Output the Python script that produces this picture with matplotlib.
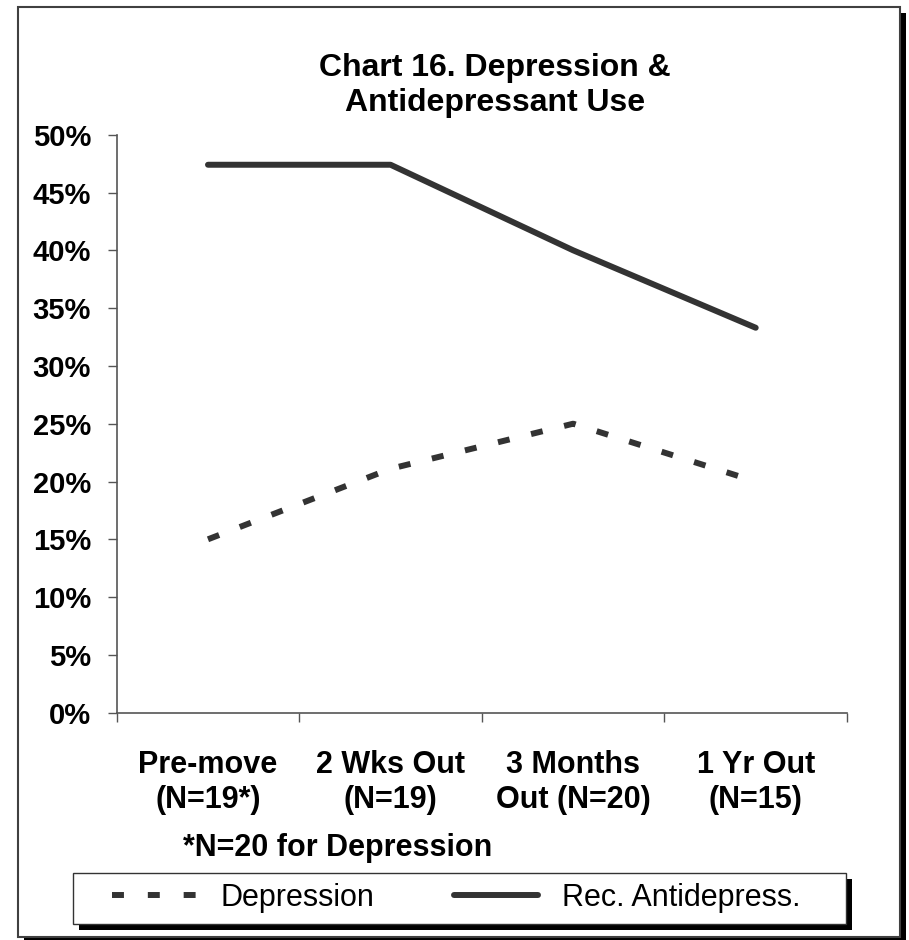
#importing libraries
import matplotlib.pyplot as plt
from matplotlib.patches import Rectangle
from matplotlib.lines import Line2D

plt.rcParams['font.family'] = ['Liberation Sans', 'DejaVu Sans']

#chart data
periods = ['Pre-move\n(N=19*)', '2 Wks Out\n(N=19)', '3 Months\nOut (N=20)', '1 Yr Out\n(N=15)']
depression = [15.0, 21.1, 25.0, 20.0]
antidepress = [47.4, 47.4, 40.0, 33.3]
y_ticks = [0, 5, 10, 15, 20, 25, 30, 35, 40, 45, 50]

W, H = 909, 940
fig = plt.figure(figsize=(W / 100, H / 100), dpi=100)

def px_rect(x0, y0, x1, y1, **kw):
    # rectangle given in pixel coords from top-left
    return Rectangle((x0 / W, 1 - y1 / H), (x1 - x0) / W, (y1 - y0) / H,
                     transform=fig.transFigure, **kw)

#outer frame with shadow
fig.add_artist(px_rect(24, 12.5, 906, 943, facecolor='black', edgecolor='none', zorder=0))
fig.add_artist(px_rect(18, 6.5, 900, 937, facecolor='white', edgecolor='#404040', lw=1.5, zorder=0.1))

ax = fig.add_axes([116.7 / W, 1 - 712.7 / H, (847 - 116.7) / W, (712.7 - 134.7) / H])
ax.set_zorder(2)
ax.patch.set_alpha(0)

x = [i + 0.5 for i in range(len(periods))]
ax.plot(x, antidepress, color='#333333', lw=4.3, solid_capstyle='round',
        solid_joinstyle='round', label='Rec. Antidepress.')
ax.plot(x, depression, color='#333333', lw=4.3, dashes=(2, 3.7),
        dash_capstyle='butt', label='Depression')

ax.set_xlim(0, len(periods))
ax.set_ylim(0, 50)
ax.set_yticks(y_ticks)
ax.set_yticklabels([f'{v}%' for v in y_ticks], fontsize=21, fontweight='bold')
ax.set_xticks(x)
ax.set_xticklabels(periods, fontsize=22, fontweight='bold')
ax.set_xticks(range(len(periods) + 1), minor=True)
ax.tick_params(axis='x', which='major', length=0, pad=27)
ax.tick_params(axis='x', which='minor', length=6.5, width=1, color='#555555', direction='out')
ax.tick_params(axis='y', length=6.5, width=1, color='#555555', pad=12)

for s in ['top', 'right']:
    ax.spines[s].set_visible(False)
for s in ['left', 'bottom']:
    ax.spines[s].set_color('#555555')
    ax.spines[s].set_linewidth(1.2)

#title and footnote
fig.text(495 / W, 1 - 111 / H, 'Chart 16. Depression &\nAntidepressant Use',
         ha='center', va='baseline', fontsize=23, fontweight='bold', linespacing=1.2,
         zorder=3)
fig.text(183 / W, 1 - 856 / H, '*N=20 for Depression', ha='left', va='baseline',
         fontsize=22, fontweight='bold', zorder=3)

#legend box with shadow
fig.add_artist(px_rect(79, 879, 852, 930, facecolor='black', edgecolor='none', zorder=0.2))
fig.add_artist(px_rect(73, 873, 846, 924, facecolor='white', edgecolor='#333333', lw=1, zorder=0.3))
handles = [Line2D([], [], color='#333333', lw=4.3, dashes=(2, 4), dash_capstyle='butt'),
           Line2D([], [], color='#333333', lw=4.3, solid_capstyle='round')]
leg = fig.legend(handles, ['Depression', 'Rec. Antidepress.'], loc='center left',
                 bbox_to_anchor=(112 / W, 1 - 898 / H), ncol=2, frameon=False,
                 fontsize=22, handlelength=2.75, handletextpad=0.8, columnspacing=2.6,
                 borderpad=0, borderaxespad=0)
leg.set_zorder(3)

fig.savefig('out.png', dpi=100)
